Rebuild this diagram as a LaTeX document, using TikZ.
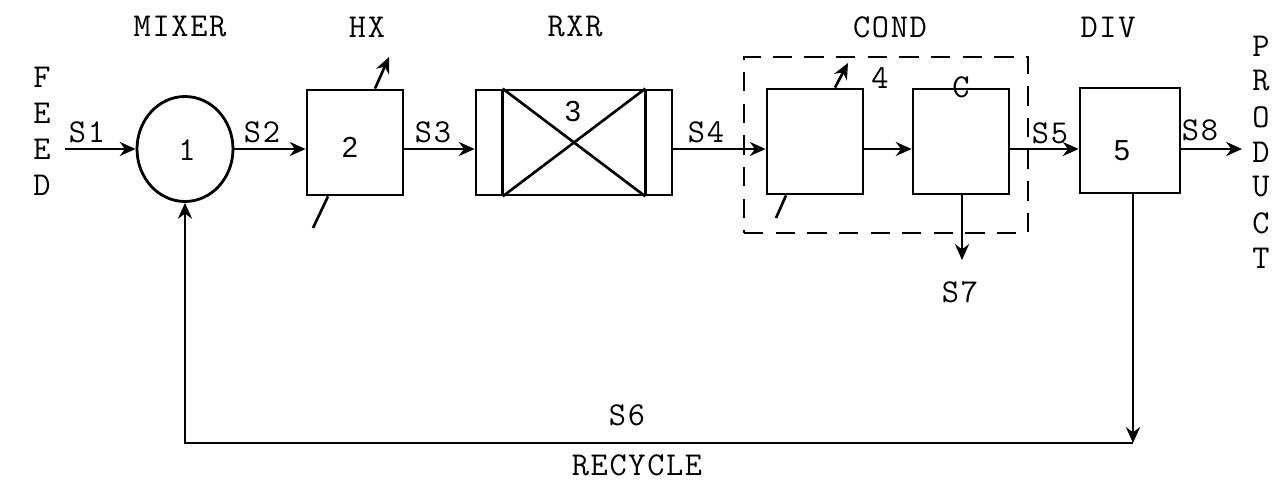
\documentclass[tikz,border=0pt]{standalone}
\usepackage{fontspec}
\setmonofont[Extension=.otf,LetterSpace=5]{lmmono12-regular}
\newfontfamily\numfont{Liberation Sans}
\usetikzlibrary{arrows.meta,shapes.geometric}
\begin{document}
\begin{tikzpicture}[x=0.02cm,y=-0.02cm,
  lbl/.style={font=\ttfamily\fontsize{19}{22}\selectfont, inner sep=0pt},
  num/.style={font=\numfont\fontsize{16.5}{20}\selectfont, inner sep=0pt},
  unit/.style={draw, line width=1.6pt, inner sep=0pt, minimum width=1.92cm, minimum height=2.1cm},
  flow/.style={line width=1.5pt, -{Stealth[length=9pt,width=8pt]}},
  plain/.style={line width=1.5pt},
  dashbox/.style={draw, line width=1.2pt, dash pattern=on 11pt off 7pt, inner sep=0pt}
]
\useasboundingbox (0,0) rectangle (1284,483);

% units
\node[unit, ellipse, minimum width=1.92cm, minimum height=2.1cm] (mix) at (185,149) {};
\node[unit] (hx) at (355,142.5) {};
\node[unit, minimum width=3.92cm] (rxr) at (574,142.5) {};
\node[unit] (cd) at (815,141.5) {};
\node[unit] (cnd) at (961,141.5) {};
\node[unit, minimum width=2cm] (div) at (1130,140.5) {};
\node[dashbox, minimum width=5.68cm, minimum height=3.52cm] (cond) at (886,145) {};

% reactor internals
\draw[plain] ([xshift=0.56cm]rxr.north west) -- ([xshift=0.56cm]rxr.south west);
\draw[plain] ([xshift=-0.56cm]rxr.north east) -- ([xshift=-0.56cm]rxr.south east);
\draw[plain] ([xshift=0.56cm]rxr.north west) -- ([xshift=-0.56cm]rxr.south east);
\draw[plain] ([xshift=0.56cm]rxr.south west) -- ([xshift=-0.56cm]rxr.north east);

% labels in units
\node[lbl] (n1) at (187,150) {1};
\node[num] (n2) at (350,147) {2};
\node[num] (n3) at (573,112) {3};
\node[lbl] (n4) at (880,78) {4};
\node[num] (n5) at (1122,151) {5};
\node[lbl] (nc) at (961,87) {C};

% titles
\node[lbl] (tmix) at (180,27) {MIXER};
\node[lbl] (thx) at (367,27) {HX};
\node[lbl] (trxr) at (575,27) {RXR};
\node[lbl] (tcond) at (890,27) {COND};
\node[lbl] (tdiv) at (1108,27) {DIV};

% FEED / PRODUCT
\node[lbl] (f1) at (42,77.5) {F};
\node[lbl] (f2) at (42,113.5) {E};
\node[lbl] (f3) at (42,149.5) {E};
\node[lbl] (f4) at (42,185.5) {D};
\node[lbl] (p1) at (1261,46) {P};
\node[lbl] (p2) at (1261,81) {R};
\node[lbl] (p3) at (1261,117) {O};
\node[lbl] (p4) at (1261,152) {D};
\node[lbl] (p5) at (1261,187) {U};
\node[lbl] (p6) at (1261,223) {C};
\node[lbl] (p7) at (1261,258) {T};

% stream labels
\node[lbl] (s1) at (87,132) {S1};
\node[lbl] (s2) at (262,132) {S2};
\node[lbl] (s3) at (433,132) {S3};
\node[lbl] (s4) at (706,132) {S4};
\node[lbl] (s5) at (1050,133) {S5};
\node[lbl] (s8) at (1200,130) {S8};
\node[lbl] (s7) at (960,292) {S7};
\node[lbl] (s6) at (627,415) {S6};
\node[lbl] (rec) at (637,465) {RECYCLE};

% coordinates
\coordinate (feed) at (65,149);
\coordinate (prod) at (1242,149);
\coordinate (s7end) at (962,260);
\coordinate (rc) at (1133,443);
\coordinate (hxq1) at (389,57);
\coordinate (hxq2) at (313,228);
\coordinate (cdq1) at (848,63);
\coordinate (cdq2) at (776,218);

% streams
\draw[flow] (feed) -- (mix.west);
\draw[flow] (mix.east) -- (mix.east -| hx.west);
\draw[flow] (hx.east |- mix.east) -- (rxr.west |- mix.east);
\draw[flow] (rxr.east |- mix.east) -- (cd.west |- mix.east);
\draw[flow] (cd.east |- mix.east) -- (cnd.west |- mix.east);
\draw[flow] (cnd.east |- mix.east) -- (div.west |- mix.east);
\draw[flow] (div.east |- mix.east) -- (prod);
\draw[flow] (cnd.south -| s7end) -- (s7end);
\draw[flow] (div.south -| rc) -- (rc);
\draw[flow] (rc) -| (mix.south);

% heat duties
\draw[flow] ([xshift=0.4cm]hx.north) -- (hxq1);
\draw[plain] ([xshift=-0.54cm]hx.south) -- (hxq2);
\draw[flow] ([xshift=0.4cm]cd.north) -- (cdq1);
\draw[plain] ([xshift=-0.58cm]cd.south) -- (cdq2);
\end{tikzpicture}
\end{document}
